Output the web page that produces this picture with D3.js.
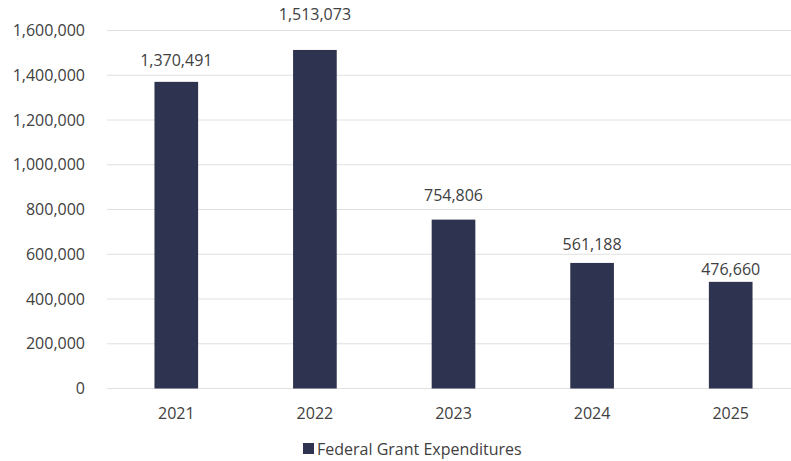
<!DOCTYPE html>
<html>
<head>
<meta charset="utf-8">
<script src="https://cdn.jsdelivr.net/npm/d3@7"></script>
<style>
  html, body { margin: 0; padding: 0; background: #ffffff; }
  svg { display: block; }
  text { font-family: "Open Sans", "Liberation Sans", sans-serif; fill: #404040; }
</style>
</head>
<body>
<svg id="chart" width="791" height="461"></svg>
<script>
// Chart data
const years = ["2021", "2022", "2023", "2024", "2025"];
const expenditures = [1370491, 1513073, 754806, 561188, 476660];
const yTicks = [0, 200000, 400000, 600000, 800000, 1000000, 1200000, 1400000, 1600000];
const seriesName = "Federal Grant Expenditures";

// Layout
const W = 791, H = 461;
const plot = { left: 107, right: 800, top: 30.5, bottom: 388.5 };
const labelGap = [16, 29.5, 19, 12.5, 6.5]; // space between each value label and its bar
const barColor = "#2e3350";
const gridColor = "#e0e0e0";

const svg = d3.select("#chart");

const x = d3.scaleBand()
  .domain(years)
  .range([plot.left, plot.right])
  .paddingInner(0.685)
  .paddingOuter(0.685 / 2);

const y = d3.scaleLinear()
  .domain([0, 1600000])
  .range([plot.bottom, plot.top]);

const fmt = d3.format(",");

// Horizontal gridlines
svg.append("g")
  .selectAll("line")
  .data(yTicks)
  .join("line")
  .attr("x1", plot.left)
  .attr("x2", W)
  .attr("y1", d => y(d))
  .attr("y2", d => y(d))
  .attr("stroke", gridColor)
  .attr("stroke-width", 1);

// Y axis labels
const yAxis = d3.axisLeft(y).tickValues(yTicks).tickFormat(fmt).tickSize(0).tickPadding(0);
const yg = svg.append("g")
  .attr("transform", "translate(85,0)")
  .call(yAxis);
yg.select(".domain").remove();
yg.selectAll("text")
  .attr("font-size", 16)
  .attr("font-family", null)
  .attr("fill", "#404040");

// X axis labels
const xAxis = d3.axisBottom(x).tickSize(0).tickPadding(0);
const xg = svg.append("g")
  .attr("transform", `translate(0,${plot.bottom})`)
  .call(xAxis);
xg.select(".domain").remove();
xg.selectAll("text")
  .attr("font-size", 16)
  .attr("font-family", null)
  .attr("fill", "#404040")
  .attr("dy", null)
  .attr("y", 30);

// Bars
svg.append("g")
  .selectAll("rect")
  .data(expenditures)
  .join("rect")
  .attr("x", (d, i) => x(years[i]))
  .attr("width", x.bandwidth())
  .attr("y", d => y(d))
  .attr("height", d => y(0) - y(d))
  .attr("fill", barColor);

// Value labels
svg.append("g")
  .selectAll("text")
  .data(expenditures)
  .join("text")
  .attr("x", (d, i) => x(years[i]) + x.bandwidth() / 2)
  .attr("y", (d, i) => y(d) - labelGap[i])
  .attr("text-anchor", "middle")
  .attr("font-size", 16)
  .text(d => fmt(d));

// Legend
const legend = svg.append("g");
legend.append("rect")
  .attr("x", 303)
  .attr("y", 443)
  .attr("width", 11)
  .attr("height", 11)
  .attr("fill", barColor);
legend.append("text")
  .attr("x", 317)
  .attr("y", 454.5)
  .attr("font-size", 16)
  .text(seriesName);
</script>
</body>
</html>
